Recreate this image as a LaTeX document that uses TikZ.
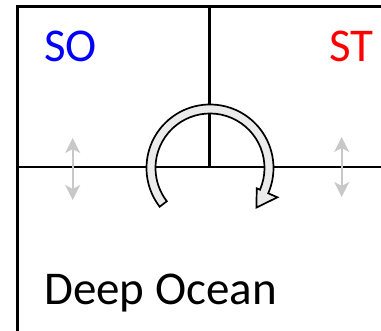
\documentclass[tikz,border=0pt]{standalone}
\usepackage{fontspec}
\setmainfont{Carlito}
\usetikzlibrary{arrows.meta}
\tikzset{
  wall/.style={line width=2.3pt, black, line cap=rect},
  mix/.style={line width=1.8pt, draw={rgb,255:red,200;green,200;blue,200}, {Stealth[length=15pt,width=15pt,inset=4pt]}-{Stealth[length=15pt,width=15pt,inset=4pt]}},
  fatarrow/.style={draw=black, line width=1.7pt, fill={rgb,255:red,235;green,235;blue,235}, line join=miter},
  lbl/.style={font=\fontsize{47}{52}\selectfont, inner sep=0pt, anchor=base west}
}
\begin{document}
\begin{tikzpicture}[x=1pt,y=1pt]
\useasboundingbox (0,0) rectangle (381,331);
% frame
\coordinate (bl) at (17.5,0);
\coordinate (tl) at (17.5,324.5);
\coordinate (tr) at (381,324.5);
\coordinate (ml) at (17.5,164);
\coordinate (mr) at (381,164);
\coordinate (vt) at (209.5,324.5);
\coordinate (vb) at (209.5,164);
\draw[wall] (bl) -- (tl) -- (tr);
\draw[wall] (ml) -- (mr);
\draw[wall] (vt) -- (vb);
% labels
\node[lbl, text=blue] (so) at (44,269) {SO};
\node[lbl, text=red, anchor=base east] (st) at (374,269) {ST};
\node[lbl] (deep) at (44,26) {Deep Ocean};
% mixing arrows
\coordinate (la) at (72.7,193);
\coordinate (lb) at (72.7,131);
\coordinate (ra) at (341.7,194);
\coordinate (rb) at (341.7,134);
\draw[mix] (la) -- (lb);
\draw[mix] (ra) -- (rb);
% circular overturning arrow
\coordinate (c) at (210,163);
\path[fatarrow] ([shift={(217.6:63.5)}]c) arc[start angle=217.6, end angle=-23.5, radius=63.5]
  -- ([shift={(-23.5:73.5)}]c)
  -- ([shift={(-40.5:61)}]c)
  -- ([shift={(-23.5:51)}]c)
  -- ([shift={(-23.5:54.5)}]c)
  arc[start angle=-23.5, end angle=217.6, radius=54.5] -- cycle;
\end{tikzpicture}
\end{document}
